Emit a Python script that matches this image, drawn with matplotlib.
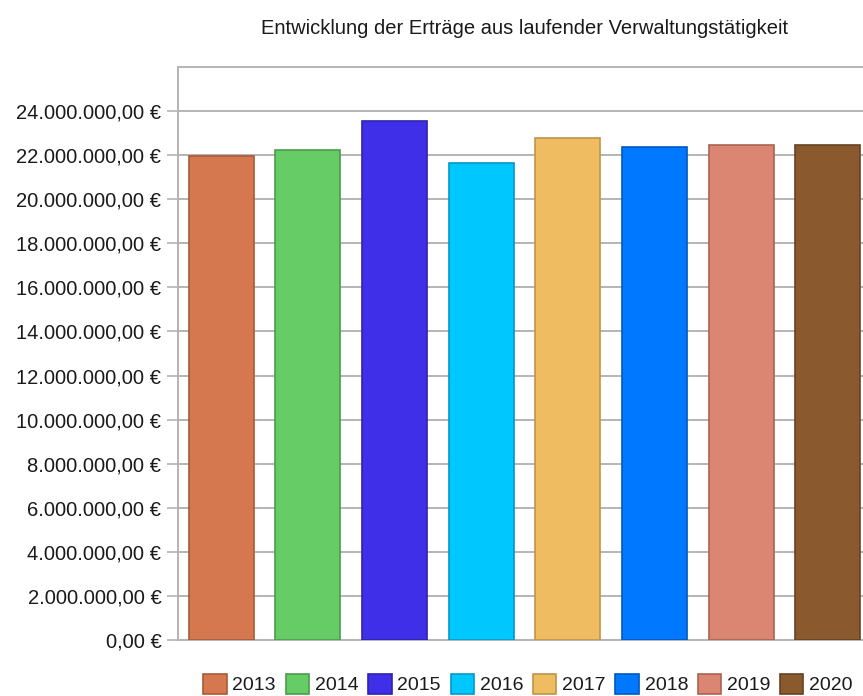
import matplotlib
matplotlib.use("Agg")
import matplotlib.pyplot as plt
from matplotlib.patches import Patch
from matplotlib.ticker import FuncFormatter

years = ["2013", "2014", "2015", "2016", "2017", "2018", "2019", "2020"]
values = [21940000, 22250000, 23570000, 21660000, 22800000, 22360000, 22440000, 22440000]
colors = ["#d5784f", "#66cc66", "#3f2fe8", "#00c8ff", "#f0bc62", "#0078ff", "#db8573", "#8a5a2e"]
edges = ["#a85a38", "#4c9c4c", "#2f22b0", "#0098c8", "#c0944a", "#0058c0", "#a86454", "#664222"]
title = "Entwicklung der Erträge aus laufender Verwaltungstätigkeit"

plt.rcParams['font.family'] = ['Liberation Sans', 'DejaVu Sans']

fig = plt.figure(figsize=(8.63, 6.96), dpi=100)
ax = fig.add_axes([178/863, 1-640/696, 693/863, (640-67)/696])

x = list(range(len(years)))
ax.bar(x, values, width=0.75, color=colors, edgecolor=edges, linewidth=1.2, zorder=3)
ax.set_xlim(-0.5, 7.5)
ax.set_ylim(0, 26000000)
ax.set_yticks(list(range(0, 24000001, 2000000)))

def fmt(v, pos):
    s = f"{v:,.2f}".replace(",", "X").replace(".", ",").replace("X", ".")
    return s + " €"

ax.yaxis.set_major_formatter(FuncFormatter(fmt))
ax.set_xticks([])
ax.grid(axis='y', color='#b4b4b4', linewidth=1.4, zorder=0)
for s in ax.spines.values():
    s.set_color('#b4b4b4')
    s.set_linewidth(1.4)
ax.tick_params(axis='y', length=8, width=1.2, color='#b4b4b4', labelsize=14.5, labelcolor='#1a1a1a', pad=4)

fig.text(525/863, 1-28/696, title, ha='center', va='center', fontsize=14.5, color='#1a1a1a')

handles = [Patch(facecolor=c, edgecolor=e, linewidth=1.2, label=y) for c, e, y in zip(colors, edges, years)]
fig.legend(handles=handles, loc='center', bbox_to_anchor=(528/863, 1-684/696), ncol=8, frameon=False,
           fontsize=14, handlelength=1.2, handleheight=1.2, handletextpad=0.3, columnspacing=0.5,
           labelcolor='#1a1a1a')

fig.savefig("out.png", dpi=100)
